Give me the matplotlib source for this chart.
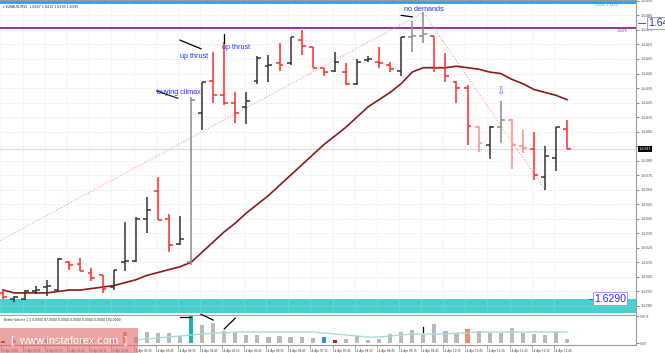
import numpy as np
import matplotlib
matplotlib.use("Agg")
import matplotlib.pyplot as plt
from matplotlib.patches import Rectangle

W, H = 665, 353

# ---- values: EURAUD M15, 14 Apr 2016 ----
opens = [1.6294, 1.6290, 1.6290, 1.6295, 1.6298, 1.6296, 1.6315, 1.6314, 1.6308, 1.6306,
         1.6298, 1.6315, 1.6316, 1.6345, 1.6364, 1.6345, 1.6328, 1.6315, 1.6418, 1.6440,
         1.6430, 1.6425, 1.6422, 1.6440, 1.6450, 1.6452, 1.6452, 1.6468, 1.6463, 1.6449,
         1.6447, 1.6446, 1.6438, 1.6454, 1.6453, 1.6451, 1.6447, 1.6470, 1.6471, 1.6471,
         1.6449, 1.6439, 1.6435, 1.6408, 1.6396, 1.6408, 1.6413, 1.6395, 1.6393, 1.6374,
         1.6387, 1.6407]
highs = [1.6295, 1.6292, 1.6296, 1.6299, 1.6303, 1.6318, 1.6316, 1.6318, 1.6311, 1.6306,
         1.6310, 1.6343, 1.6346, 1.6360, 1.6374, 1.6348, 1.6347, 1.6429, 1.6439, 1.6460,
         1.6467, 1.6432, 1.6432, 1.6457, 1.6458, 1.6466, 1.6470, 1.6475, 1.6463, 1.6449,
         1.6460, 1.6452, 1.6455, 1.6457, 1.6463, 1.6453, 1.6470, 1.6481, 1.6487, 1.6471,
         1.6459, 1.6440, 1.6437, 1.6409, 1.6409, 1.6426, 1.6414, 1.6406, 1.6405, 1.6395,
         1.6408, 1.6413]
lows = [1.6290, 1.6288, 1.6289, 1.6293, 1.6292, 1.6295, 1.6310, 1.6309, 1.6302, 1.6294,
        1.6296, 1.6309, 1.6315, 1.6335, 1.6344, 1.6322, 1.6327, 1.6313, 1.6406, 1.6425,
        1.6423, 1.6411, 1.6410, 1.6438, 1.6439, 1.6447, 1.6451, 1.6458, 1.6449, 1.6443,
        1.6446, 1.6437, 1.6437, 1.6453, 1.6449, 1.6446, 1.6443, 1.6460, 1.6466, 1.6446,
        1.6439, 1.6425, 1.6396, 1.6391, 1.6386, 1.6397, 1.6379, 1.6390, 1.6372, 1.6365,
        1.6378, 1.6393]
closes = [1.6291, 1.6291, 1.6295, 1.6296, 1.6299, 1.6317, 1.6313, 1.6309, 1.6304, 1.6297,
          1.6310, 1.6316, 1.6345, 1.6351, 1.6344, 1.6327, 1.6331, 1.6427, 1.6439, 1.6430,
          1.6425, 1.6418, 1.6426, 1.6456, 1.6451, 1.6451, 1.6470, 1.6464, 1.6449, 1.6446,
          1.6453, 1.6438, 1.6453, 1.6455, 1.6452, 1.6448, 1.6470, 1.6471, 1.6472, 1.6449,
          1.6443, 1.6435, 1.6409, 1.6397, 1.6408, 1.6413, 1.6396, 1.6394, 1.6375, 1.6388,
          1.6408, 1.6393]
ma_values = [1.6296, 1.6294, 1.6294, 1.6294, 1.6294, 1.6295, 1.6296, 1.6296, 1.6297, 1.6298,
             1.6299, 1.6301, 1.6303, 1.6306, 1.6308, 1.6310, 1.6312, 1.6315, 1.6322, 1.6329,
             1.6336, 1.6342, 1.6349, 1.6355, 1.6361, 1.6368, 1.6375, 1.6382, 1.6389, 1.6396,
             1.6402, 1.6408, 1.6415, 1.6422, 1.6427, 1.6432, 1.6438, 1.6446, 1.6449, 1.6449,
             1.6449, 1.6450, 1.6449, 1.6448, 1.6446, 1.6445, 1.6441, 1.6438, 1.6434, 1.6432,
             1.6430, 1.6427]
volumes = [43, 64, 85, 64, 85, 85, 64, 85, 85, 107,
           107, 235, 128, 235, 214, 214, 150, 577, 384, 427,
           256, 235, 171, 171, 128, 150, 128, 128, 107, 128,
           64, 85, 150, 64, 85, 192, 235, 278, 192, 406,
           256, 214, 299, 256, 214, 214, 320, 214, 192, 171,
           235, 87]
vol_avg_start = 12
vol_avg = [64, 85, 107, 128, 150, 171, 192, 214, 214, 235,
           235, 235, 235, 235, 235, 235, 235, 214, 192, 171,
           150, 128, 128, 150, 171, 192, 192, 192, 192, 214,
           214, 235, 235, 235, 235, 235, 235, 235, 235, 235]

levels = {"blue": 1.6494, "purple": 1.6476}
support_zone = (1.6280, 1.6290)
trend_up = ([-0.27, 38], [1.6330, 1.6487])
trend_down = ([38, 49], [1.6487, 1.6365])

tick_labels = ["14 Apr 2016", "14 Apr 00:45", "14 Apr 01:15", "14 Apr 01:45", "14 Apr 02:15",
               "14 Apr 02:45", "14 Apr 03:15", "14 Apr 03:45", "14 Apr 04:15", "14 Apr 04:45",
               "14 Apr 05:15", "14 Apr 05:45", "14 Apr 06:15", "14 Apr 06:45", "14 Apr 07:15",
               "14 Apr 07:45", "14 Apr 08:15", "14 Apr 08:45", "14 Apr 09:15", "14 Apr 09:45",
               "14 Apr 10:15", "14 Apr 10:45", "14 Apr 11:15", "14 Apr 11:45", "14 Apr 12:15",
               "14 Apr 12:45"]
price_ticks = [1.6495, 1.6485, 1.6475, 1.6465, 1.6455, 1.6445, 1.6435, 1.6425, 1.6415, 1.6405,
               1.6395, 1.6385, 1.6375, 1.6365, 1.6355, 1.6345, 1.6335, 1.6325, 1.6315, 1.6305,
               1.6295, 1.6285]

# ---- styles ----
DK, GR, RD, PK = "#333333", "#8a8a8a", "#ff2a2a", "#ff8c8c"
bar_colors = [RD, DK, DK, DK, DK, DK, RD, RD, RD, RD,
              DK, DK, DK, DK, RD, RD, DK, GR, DK, RD,
              RD, RD, DK, DK, DK, RD, DK, RD, RD, RD,
              DK, RD, DK, DK, RD, RD, DK, GR, GR, RD,
              RD, RD, RD, PK, DK, GR, PK, PK, RD, DK,
              DK, RD]
VG = "#b9b9b9"
vol_colors = [VG] * len(volumes)
vol_colors[0] = "#b22222"
vol_colors[3] = "#3b8beb"
vol_colors[11] = "#f58a6a"
vol_colors[17] = "#20b2aa"
vol_colors[29] = "#3b8beb"
vol_colors[30] = "#b22222"
vol_colors[42] = "#f58a6a"

ANN = "#2a2aff"
SANS = "Liberation Sans"


def px_rect(x0, y0, x1, y1):
    return [x0 / W, 1 - y1 / H, (x1 - x0) / W, (y1 - y0) / H]


fig = plt.figure(figsize=(W / 100, H / 100), dpi=100)
fig.patch.set_facecolor("white")

idx = np.arange(len(closes))
xlim = (-0.27, 57.23)
tick_pos = np.arange(len(tick_labels)) * 2 - 0.2

# ---------------- price panel ----------------
ax = fig.add_axes(px_rect(0, 0, 636, 316))
ax.set_xlim(*xlim)
ax.set_ylim(1.62781, 1.64956)

ax.set_xticks(tick_pos)
ax.set_xticklabels([])
ax.tick_params(axis="x", length=0)
ax.set_yticks(price_ticks)
# the current-price box covers the label closest to the last close
ax.set_yticklabels(["" if abs(p - closes[-1]) < 0.0004 else "%.4f" % p for p in price_ticks])
ax.yaxis.tick_right()
ax.tick_params(axis="y", labelsize=2.6, length=2, pad=1, colors="#555555", width=0.5)
ax.grid(True, color="#d4d4d4", lw=0.5, ls=(0, (1, 2)))
ax.spines["left"].set_visible(False)
ax.spines["top"].set_color("#9a9a9a")
ax.spines["right"].set_color("#9a9a9a")
ax.spines["bottom"].set_color("#a0a0a0")
ax.spines["bottom"].set_linewidth(1.6)

ax.axhspan(*support_zone, color="#48d1cc", lw=0, zorder=1)
ax.axhline(levels["blue"], color="#3399ff", lw=2, zorder=2)
ax.axhline(levels["purple"], color="#993399", lw=1.4, zorder=2)
ax.axhline(closes[-1], color="#dcdcdc", lw=0.8, zorder=1)

ax.plot(*trend_up, color="#ff9c9c", lw=0.8, ls=(0, (1, 1.5)), zorder=2)
ax.plot(*trend_down, color="#ff9c9c", lw=0.8, ls=(0, (1, 1.5)), zorder=2)
ax.plot(idx, ma_values, color="#8b1a1a", lw=1.2, zorder=3)

ax.vlines(idx, lows, highs, colors=bar_colors, lw=1.1, zorder=4)
ax.hlines(opens, idx - 0.35, idx, colors=bar_colors, lw=1.1, zorder=4)
ax.hlines(closes, idx, idx + 0.35, colors=bar_colors, lw=1.1, zorder=4)

# annotations
ax.text(13.9, 1.6432, "buying climax", color=ANN, fontsize=5.2, family=SANS, va="center", zorder=5)
ax.text(16.0, 1.6457, "up thrust", color=ANN, fontsize=5.2, family=SANS, va="center", zorder=5)
ax.text(19.8, 1.6463, "up thrust", color=ANN, fontsize=5.2, family=SANS, va="center", zorder=5)
ax.text(36.3, 1.6489, "no demands", color=ANN, fontsize=5.2, family=SANS, va="center", zorder=5)
ax.text(45.0, 1.6433, "\u21e9", color="#4466ff", fontsize=7, ha="center", va="center", zorder=5)
ax.plot([16.0, 17.9], [1.6468, 1.6462], color="black", lw=0.9, zorder=5)
ax.plot([13.9, 15.8], [1.6433, 1.6428], color="#1a1a60", lw=0.9, zorder=5)
ax.plot([19.98, 19.98], [1.6472, 1.6466], color="black", lw=0.9, zorder=5)
ax.plot([36.0, 37.0], [1.6485, 1.6484], color="black", lw=0.9, zorder=5)

ax.text(53.4, 1.64925, "1.6494 (1.6494)", color="#3399ff", fontsize=2.2, ha="left", va="center")
ax.text(55.5, 1.6474, "1.6476", color="#993399", fontsize=2.2, ha="left", va="center")

ax.plot([53.0, 53.4], [1.6290, 1.6290], color=ANN, lw=0.6, zorder=6)
ax.text(53.45, 1.6290, "1.6290", color=ANN, fontsize=7.5, family=SANS, va="center", ha="left",
        bbox=dict(boxstyle="square,pad=0.12", fc="white", ec="#8a8aff", lw=0.6), zorder=6)

ax.text(1.004, closes[-1], "%.4f" % closes[-1], transform=ax.get_yaxis_transform(),
        fontsize=2.6, color="white", va="center", ha="left",
        bbox=dict(boxstyle="square,pad=0.25", fc="black", ec="none"), zorder=7)

fig.text(3 / W, 1 - 7 / H, "\u25be EURAUD,M15  1.6407 1.6413 1.6393 1.6393", fontsize=2.3,
         color="#222222", va="center")
fig.lines.append(plt.Line2D([638 / W, 645 / W], [1 - 23 / H, 1 - 23 / H], transform=fig.transFigure,
                            color=ANN, lw=0.6))
# price flag partly outside the picture, as in the screenshot
fig.text(648 / W, 1 - 23 / H, "1.6494", color=ANN, fontsize=7.5, family=SANS, va="center",
         bbox=dict(boxstyle="square,pad=0.12", fc="white", ec="#8a8aff", lw=0.6))

# ---------------- volume panel ----------------
vax = fig.add_axes(px_rect(0, 316, 636, 345))
vax.set_xlim(*xlim)
vax.set_ylim(-42.7, 576.8)
vax.bar(idx, volumes, width=0.38, color=vol_colors, zorder=3)
vax.plot(idx[vol_avg_start:], vol_avg, color="#a6dcdc", lw=1.0, zorder=4)
vax.plot([16.0, 17.0], [565, 565], color="black", lw=0.9, zorder=5)
vax.plot([17.9, 19.0], [615, 490], color="black", lw=0.9, clip_on=False, zorder=5)
vax.plot([20.0, 21.0], [300, 530], color="black", lw=0.9, zorder=5)
vax.plot([38.0, 38.0], [340, 230], color="black", lw=0.9, zorder=5)

vax.set_xticks(tick_pos)
vax.set_xticklabels(tick_labels, fontsize=2.0, ha="left", color="#333333")
vax.tick_params(axis="x", length=2, pad=1, width=0.5, colors="#777777", labelcolor="#333333")
vax.yaxis.tick_right()
vax.set_yticks([0, 576.8])
vax.set_yticklabels(["0.00", "576.8"])
vax.tick_params(axis="y", labelsize=2.3, length=2, pad=1, colors="#555555", width=0.5)
vax.spines["left"].set_visible(False)
vax.spines["top"].set_visible(False)
vax.spines["right"].set_color("#9a9a9a")
vax.spines["bottom"].set_color("#9a9a9a")
vax.text(0.007, 0.93, "Better Volume 1.3 0.0000 87.0000 0.0000 0.0000 0.0000 0.0000 192.0000",
         transform=vax.transAxes, fontsize=2.2, color="#222222", va="top")

# watermark
fig.add_artist(Rectangle((0, 0), 138 / W, 25 / H, transform=fig.transFigure,
                         fc="#e06a6a", alpha=0.6, ec="none", zorder=10))
fig.text(69 / W, 12 / H, "[  www.instaforex.com  ]", color="white", fontsize=7.9, family=SANS,
         ha="center", va="center", zorder=11)

fig.savefig("out.png", dpi=100)
